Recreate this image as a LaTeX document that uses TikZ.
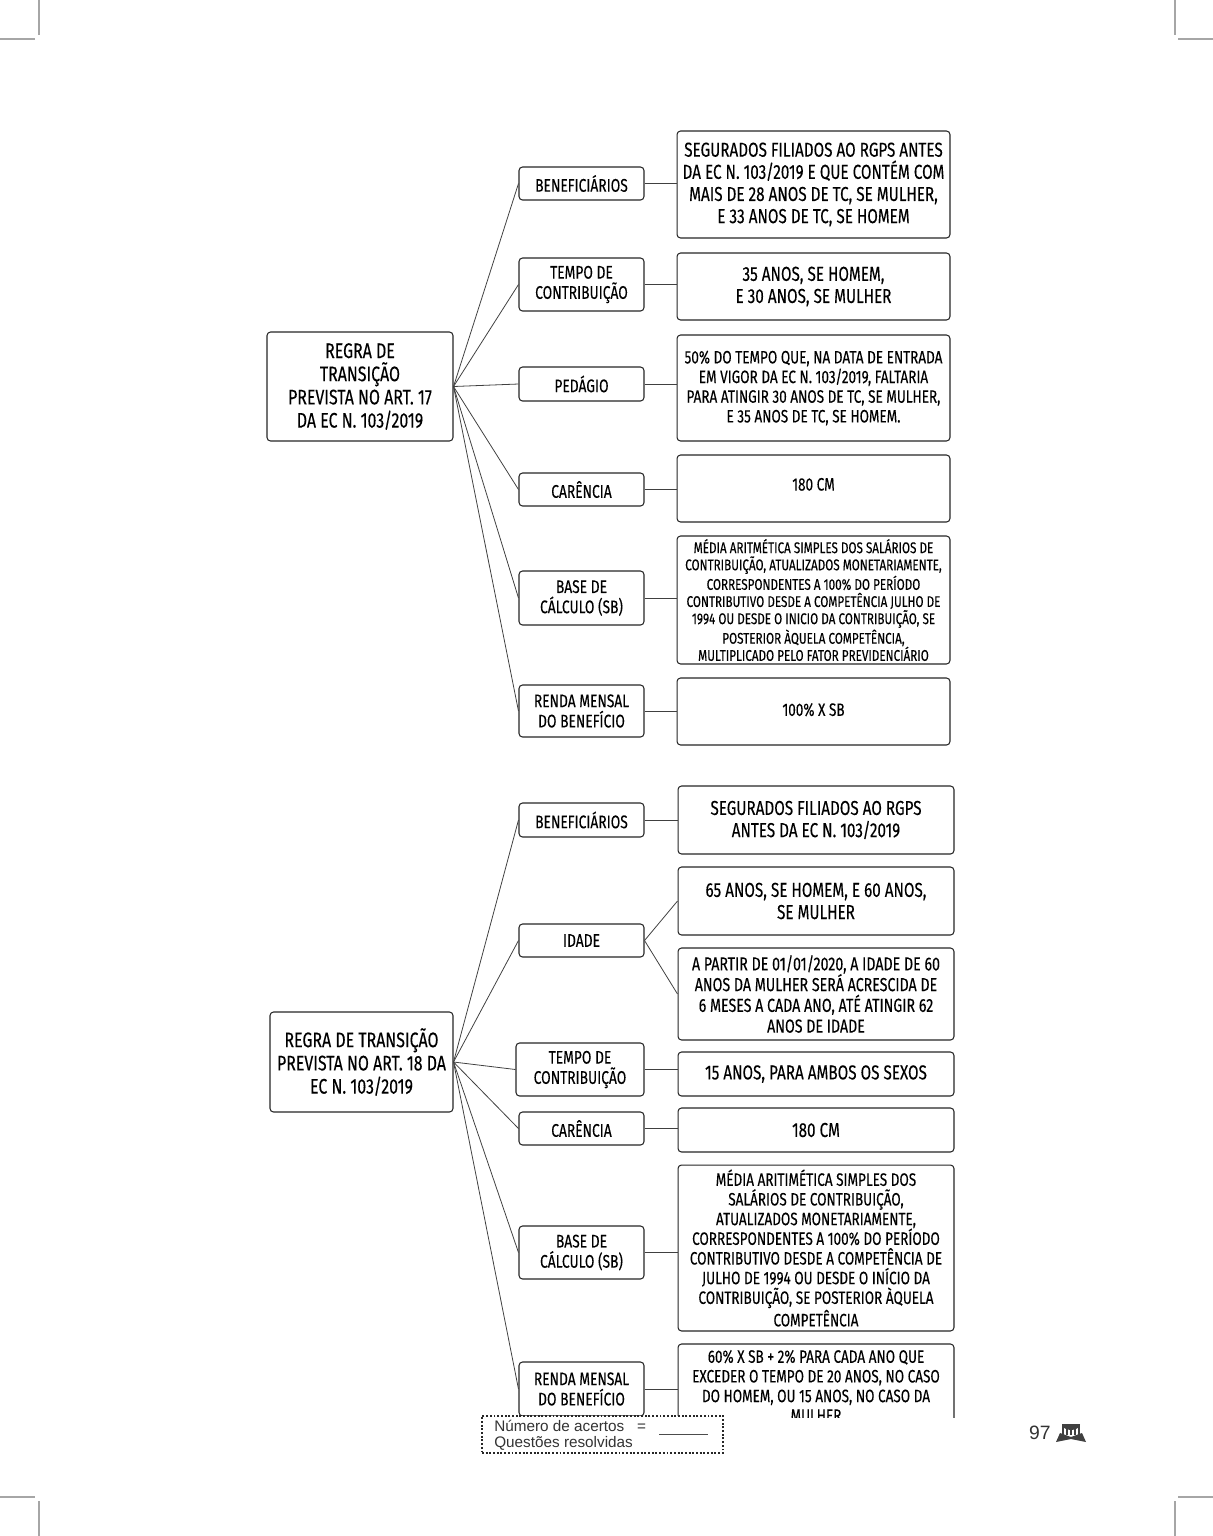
\documentclass[tikz,border=0pt]{standalone}
\usepackage{fontspec}
\usepackage{tikz}
\setmainfont{Liberation Sans}
\newfontfamily\handfont[FakeStretch=0.755,FakeBold=0.2]{Fira Sans}
\tikzset{
  box/.style={draw=black!85, fill=white, rounded corners=2pt, line width=0.6pt, align=center, inner sep=0pt, font=\handfont},
  mainbox/.style={box, font=\handfont\fontsize{12}{13.2}\selectfont},
  subbox/.style={box, minimum width=2.5cm, font=\handfont\fontsize{10.4}{11.5}\selectfont},
  rightbox/.style={box, minimum width=5.46cm},
  rightboxb/.style={box, minimum width=5.52cm},
  bigtxt/.style={font=\handfont\fontsize{11.5}{12.6}\selectfont},
  midtxt/.style={font=\handfont\fontsize{10.2}{11.2}\selectfont},
  smalltxt/.style={font=\handfont\fontsize{8.8}{9.75}\selectfont},
  link/.style={draw=black!75, line width=0.45pt},
  crop/.style={draw=black!35, line width=0.6pt}
}
\begin{document}
\begin{tikzpicture}[x=0.02cm, y=-0.02cm]
  \useasboundingbox (0,0) rectangle (1213,1536);
  % crop marks
  \draw[crop] (39,0) -- (39,35); \draw[crop] (0,39) -- (35,39);
  \draw[crop] (1175,0) -- (1175,35); \draw[crop] (1178,39) -- (1213,39);
  \draw[crop] (39,1501) -- (39,1536); \draw[crop] (0,1497) -- (35,1497);
  \draw[crop] (1175,1501) -- (1175,1536); \draw[crop] (1178,1497) -- (1213,1497);

  % first tree
  \node[mainbox, minimum width=3.72cm, minimum height=2.18cm] (regraA) at (360,386.5) {REGRA DE\\TRANSIÇÃO\\PREVISTA NO ART. 17\\DA EC N. 103/2019};
  \node[subbox, minimum height=0.66cm] (benefA) at (581.5,183.5) {BENEFICIÁRIOS};
  \node[subbox, minimum height=1.06cm] (tempoA) at (581.5,284.5) {TEMPO DE\\CONTRIBUIÇÃO};
  \node[subbox, minimum height=0.68cm] (pedagioA) at (581.5,384) {PEDÁGIO};
  \node[subbox, minimum height=0.66cm] (carenciaA) at (581.5,489.5) {CARÊNCIA};
  \node[subbox, minimum height=1.08cm] (baseA) at (581.5,598) {BASE DE\\CÁLCULO (SB)};
  \node[subbox, minimum height=1.04cm] (rendaA) at (581.5,711) {RENDA MENSAL\\DO BENEFÍCIO};
  \node[rightbox, bigtxt, minimum height=2.14cm] (rbenefA) at (813.5,184.5) {SEGURADOS FILIADOS AO RGPS ANTES\\DA EC N. 103/2019 E QUE CONTÉM COM\\MAIS DE 28 ANOS DE TC, SE MULHER,\\E 33 ANOS DE TC, SE HOMEM};
  \node[rightbox, bigtxt, minimum height=1.34cm] (rtempoA) at (813.5,286.5) {35 ANOS, SE HOMEM,\\E 30 ANOS, SE MULHER};
  \node[rightbox, midtxt, minimum height=2.12cm] (rpedagioA) at (813.5,388) {50\% DO TEMPO QUE, NA DATA DE ENTRADA\\EM VIGOR DA EC N. 103/2019, FALTARIA\\PARA ATINGIR 30 ANOS DE TC, SE MULHER,\\E 35 ANOS DE TC, SE HOMEM.};
  \node[rightbox, midtxt, minimum height=1.34cm, text depth=0.17cm] (rcarenciaA) at (813.5,488.5) {180 CM};
  \node[rightbox, smalltxt, minimum height=2.56cm] (rbaseA) at (813.5,600) {MÉDIA ARITMÉTICA SIMPLES DOS SALÁRIOS DE\\CONTRIBUIÇÃO, ATUALIZADOS MONETARIAMENTE,\\CORRESPONDENTES A 100\% DO PERÍODO\\CONTRIBUTIVO DESDE A COMPETÊNCIA JULHO DE\\1994 OU DESDE O INICIO DA CONTRIBUIÇÃO, SE\\POSTERIOR ÀQUELA COMPETÊNCIA,\\MULTIPLICADO PELO FATOR PREVIDENCIÁRIO};
  \node[rightbox, midtxt, minimum height=1.34cm, text depth=0.08cm] (rrendaA) at (813.5,711.5) {100\% X SB};
  \foreach \n in {benefA,tempoA,pedagioA,carenciaA,baseA,rendaA} \draw[link] (regraA.east) -- (\n.west);
  \foreach \n/\r in {benefA/rbenefA,tempoA/rtempoA,pedagioA/rpedagioA,carenciaA/rcarenciaA,baseA/rbaseA,rendaA/rrendaA} \draw[link] (\n.east) -- (\n.east -| \r.west);

  % second tree
  \node[mainbox, minimum width=3.66cm, minimum height=2cm] (regraB) at (361.5,1062) {REGRA DE TRANSIÇÃO\\PREVISTA NO ART. 18 DA\\EC N. 103/2019};
  \node[subbox, minimum height=0.68cm] (benefB) at (581.5,820) {BENEFICIÁRIOS};
  \node[subbox, minimum height=0.66cm] (idadeB) at (581.5,940.5) {IDADE};
  \node[subbox, minimum width=2.56cm, minimum height=1.06cm] (tempoB) at (580,1069.5) {TEMPO DE\\CONTRIBUIÇÃO};
  \node[subbox, minimum height=0.66cm] (carenciaB) at (581.5,1128.5) {CARÊNCIA};
  \node[subbox, minimum height=1.06cm] (baseB) at (581.5,1252.5) {BASE DE\\CÁLCULO (SB)};
  \node[subbox, minimum height=1.08cm] (rendaB) at (581.5,1389) {RENDA MENSAL\\DO BENEFÍCIO};
  \node[rightboxb, bigtxt, minimum height=1.36cm] (rbenefB) at (816,820) {SEGURADOS FILIADOS AO RGPS\\ANTES DA EC N. 103/2019};
  \node[rightboxb, bigtxt, minimum height=1.36cm] (ridadeB) at (816,901) {65 ANOS, SE HOMEM, E 60 ANOS,\\SE MULHER};
  \node[rightboxb, midtxt, font=\handfont\fontsize{10.7}{11.8}\selectfont, minimum height=1.84cm] (ridadeC) at (816,994) {A PARTIR DE 01/01/2020, A IDADE DE 60\\ANOS DA MULHER SERÁ ACRESCIDA DE\\6 MESES A CADA ANO, ATÉ ATINGIR 62\\ANOS DE IDADE};
  \node[rightboxb, bigtxt, minimum height=0.88cm] (rtempoB) at (816,1074) {15 ANOS, PARA AMBOS OS SEXOS};
  \node[rightboxb, bigtxt, minimum height=0.88cm] (rcarenciaB) at (816,1130) {180 CM};
  \node[rightboxb, midtxt, minimum height=3.32cm] (rbaseB) at (816,1248) {MÉDIA ARITIMÉTICA SIMPLES DOS\\SALÁRIOS DE CONTRIBUIÇÃO,\\ATUALIZADOS MONETARIAMENTE,\\CORRESPONDENTES A 100\% DO PERÍODO\\CONTRIBUTIVO DESDE A COMPETÊNCIA DE\\JULHO DE 1994 OU DESDE O INÍCIO DA\\CONTRIBUIÇÃO, SE POSTERIOR ÀQUELA\\COMPETÊNCIA};
  \node[rightboxb, midtxt, minimum height=1.68cm] (rrendaB) at (816,1386) {60\% X SB + 2\% PARA CADA ANO QUE\\EXCEDER O TEMPO DE 20 ANOS, NO CASO\\DO HOMEM, OU 15 ANOS, NO CASO DA\\MULHER};
  \foreach \n in {benefB,idadeB,tempoB,carenciaB,baseB,rendaB} \draw[link] (regraB.east) -- (\n.west);
  \foreach \n/\r in {benefB/rbenefB,tempoB/rtempoB,carenciaB/rcarenciaB,baseB/rbaseB,rendaB/rrendaB} \draw[link] (\n.east) -- (\n.east -| \r.west);
  \draw[link] (idadeB.east) -- (ridadeB.west);
  \draw[link] (idadeB.east) -- (ridadeC.west);

  % footer
  \node[fill=white, minimum width=10cm, minimum height=1.2cm, inner sep=0pt] (cover) at (732,1448) {};
  \node[draw=black!85, densely dotted, line width=1.1pt, fill=white, minimum width=4.82cm, minimum height=0.74cm, inner sep=0pt] (acertos) at (602.5,1434.5) {};
  \node[anchor=west, align=left, inner sep=0pt, font=\fontsize{8.7}{9}\selectfont, text=black!80] (acertostxt) at (494,1435.5) {Número de acertos \ \ =\\Questões resolvidas};
  \coordinate (fracA) at (659,1434); \coordinate (fracB) at (708,1434);
  \draw[black!70, line width=0.5pt] (fracA) -- (fracB);
  \node[anchor=east, inner sep=0pt, font=\fontsize{11}{12}\selectfont, text=black!80] (pagina) at (1051,1433) {97};
  % little temple on a book
  \fill[black!75] (1056,1442) -- (1060,1433) -- (1071,1437) -- (1082,1433) -- (1086,1442) -- (1071,1439) -- cycle;
  \fill[black!75] (1062,1424) arc (180:0:9 and 6) -- cycle;
  \foreach \x in {1063,1067,1071,1075,1079} \fill[black!75] (\x-1,1425) rectangle (\x+1,1435);
\end{tikzpicture}
\end{document}
